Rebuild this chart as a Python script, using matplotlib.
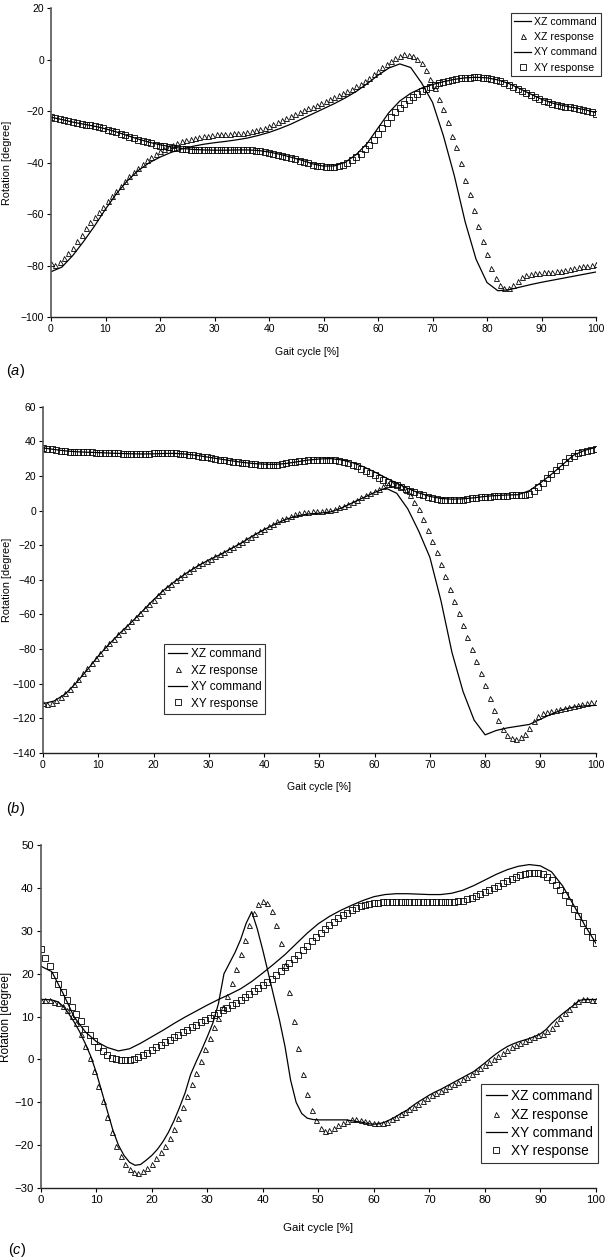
import numpy as np
import matplotlib
matplotlib.use("Agg")
import matplotlib.pyplot as plt

plt.rcParams["font.family"] = ["Liberation Sans", "DejaVu Sans"]
plt.rcParams["mathtext.fontset"] = "custom"
plt.rcParams["mathtext.rm"] = "Liberation Sans"
plt.rcParams["mathtext.it"] = "Liberation Sans:italic"

# sample grids (gait cycle %)
cmd_x = np.linspace(0, 100, 51)        # commands, every 2 %
cmd_x_fine = np.linspace(0, 100, 101)  # panel (c) XZ command, every 1 %
resp_x = np.linspace(0, 100, 126)      # measured responses, every 0.8 %

# ---- panel (a) ----
a_xz_cmd = [-82.3, -80.5, -76, -70.5, -64.5, -58, -52, -47, -43, -40,
            -37.8, -36, -34.6, -33.6, -32.8, -32.2, -31.7, -31.1, -30.4, -29.4,
            -28.2, -26.7, -25, -23, -21, -19, -17, -14.8, -12.3, -9.3,
            -6, -3.2, -1.6, -3, -9, -16.5, -29.5, -45, -63, -77.5,
            -86.5, -89.7, -89.3, -88.3, -87.3, -86.4, -85.6, -84.8, -84, -83.2,
            -82.4]
a_xz_resp = [-79, -79.5, -78.5, -77, -75, -73, -70.5, -68, -65.5, -63,
             -61, -59, -57, -55, -53, -51, -49, -47, -45, -43.5,
             -42, -40.5, -39, -37.8, -36.6, -35.5, -34.6, -33.8, -33, -32.3,
             -31.7, -31.2, -30.7, -30.3, -30, -29.7, -29.4, -29.2, -29, -28.9,
             -28.8, -28.7, -28.6, -28.5, -28.3, -28.1, -27.8, -27.4, -27, -26.4,
             -25.8, -25.1, -24.3, -23.5, -22.7, -21.9, -21.1, -20.3, -19.6, -18.9,
             -18.2, -17.4, -16.7, -16, -15.2, -14.5, -13.7, -12.9, -12.1, -11.2,
             -10.3, -9.3, -8.2, -7, -5.7, -4.3, -2.9, -1.6, -0.4, 0.6,
             1.5, 2.1, 1.9, 1.3, 0.5, -1.3, -4, -7.5, -11, -15.2,
             -19.2, -24.3, -29.5, -34, -40, -46.5, -52, -58.5, -64.5, -70.5,
             -75.5, -81, -84.8, -87.3, -88.6, -88.6, -87.3, -85.8, -84.5, -83.5,
             -83, -82.8, -82.7, -82.6, -82.5, -82.4, -82.2, -82, -81.7, -81.3,
             -81, -80.6, -80.2, -79.9, -79.6, -79.3]
a_xy_cmd = [-22.3, -23.2, -24.2, -25, -25.8, -26.8, -28, -29.4, -30.8, -32,
            -33, -33.8, -34.4, -34.8, -35, -35.1, -35.1, -35, -35, -35.2,
            -35.8, -36.7, -37.8, -39, -40.4, -41.3, -41.2, -39.8, -36.8, -32.5,
            -26.5, -20.5, -16, -13, -11, -9.6, -8.5, -7.6, -7, -6.8,
            -7, -7.8, -9.2, -11.2, -13.3, -15.3, -16.8, -17.8, -18.6, -19.4,
            -20.5]
a_xy_resp = [-22.2, -22.6, -23, -23.4, -23.8, -24.2, -24.6, -24.9, -25.2, -25.5,
             -25.8, -26.2, -26.6, -27.1, -27.6, -28.1, -28.7, -29.2, -29.8, -30.4,
             -31, -31.5, -32, -32.5, -32.9, -33.3, -33.6, -33.9, -34.2, -34.4,
             -34.6, -34.8, -34.9, -35, -35.1, -35.1, -35.2, -35.2, -35.2, -35.2,
             -35.2, -35.1, -35.1, -35.1, -35.1, -35.1, -35.2, -35.3, -35.5, -35.8,
             -36.1, -36.5, -36.9, -37.3, -37.8, -38.2, -38.7, -39.2, -39.7, -40.2,
             -40.7, -41.1, -41.4, -41.6, -41.6, -41.5, -41.2, -40.7, -40, -39,
             -37.8, -36.4, -34.8, -33, -31, -28.8, -26.6, -24.4, -22.3, -20.4,
             -18.6, -17, -15.6, -14.3, -13.2, -12.2, -11.3, -10.5, -9.8, -9.2,
             -8.7, -8.2, -7.8, -7.5, -7.2, -7, -6.9, -6.8, -6.8, -6.9,
             -7.1, -7.4, -7.8, -8.3, -8.9, -9.6, -10.4, -11.2, -12, -12.9,
             -13.7, -14.5, -15.2, -15.9, -16.5, -17, -17.5, -17.9, -18.2, -18.5,
             -18.8, -19.1, -19.5, -19.9, -20.4, -21]

# ---- panel (b) ----
b_xz_cmd = [-111.5, -110, -106, -99.5, -92, -84, -77, -70.5, -64.5, -58,
            -51.5, -45.5, -40.5, -36, -32, -28.5, -25.5, -22, -18.5, -14.5,
            -11, -7.8, -5, -3, -2, -1.5, -0.8, 1.5, 4.5, 7.5,
            10.5, 13, 10, 1, -12, -27, -52, -82, -104.5, -121,
            -129.5, -127, -125.5, -124.5, -123.5, -120.5, -117.5, -115, -113.5, -112.8,
            -112.5]
b_xz_resp = [-111, -111.5, -111, -109.5, -107.5, -105.5, -103, -100, -97, -94,
             -91, -88, -85, -82, -79, -76.5, -74, -71.5, -69, -66.5,
             -64, -61.5, -59, -56.5, -54, -51.5, -49, -46.5, -44.3, -42.2,
             -40.2, -38.3, -36.5, -34.8, -33.2, -31.7, -30.3, -29, -27.7, -26.5,
             -25.2, -23.8, -22.4, -21, -19.5, -18, -16.5, -15, -13.5, -12,
             -10.5, -9, -7.5, -6.2, -5, -4, -3, -2.2, -1.6, -1,
             -0.6, -0.3, -0.2, 0, 0.2, 0.5, 1, 1.8, 2.8, 4,
             5.2, 6.4, 7.6, 8.8, 10, 11.2, 12.5, 14, 15.2, 15.7,
             15.3, 14, 12, 9, 5.2, 1, -5, -11, -17.5, -24,
             -31, -38, -45, -52, -59, -66, -73, -80, -87, -94,
             -101, -108, -115, -121, -126, -129.8, -131.5, -132, -131, -128.8,
             -125.5, -121.5, -118.5, -117, -116.2, -115.5, -115, -114.4, -113.8, -113.2,
             -112.6, -112, -111.5, -111.1, -110.8, -110.6]
b_xy_cmd = [36.2, 35.3, 34.5, 34, 33.7, 33.5, 33.2, 33, 32.8, 32.7,
            32.8, 33, 33, 32.6, 31.8, 30.8, 29.8, 28.8, 27.9, 27.2,
            26.8, 26.7, 27.2, 28.2, 29.2, 29.8, 30, 29.3, 27.7, 25.3,
            22.3, 19, 15.8, 12.8, 10.2, 8.2, 7, 6.6, 6.8, 7.4,
            8.2, 8.7, 9, 9.2, 11.5, 16, 21, 26.5, 32, 34.8,
            36.5]
b_xy_resp = [36, 35.8, 35.3, 35, 34.6, 34.3, 34.1, 34, 33.9, 33.8,
             33.7, 33.6, 33.5, 33.4, 33.3, 33.2, 33.1, 33, 32.9, 32.9,
             32.8, 32.8, 32.8, 32.8, 32.9, 33, 33, 33, 33.1, 33.1,
             33, 32.8, 32.6, 32.3, 31.9, 31.5, 31.1, 30.7, 30.3, 29.9,
             29.5, 29.1, 28.7, 28.3, 27.9, 27.6, 27.3, 27, 26.8, 26.6,
             26.5, 26.5, 26.5, 26.6, 26.9, 27.3, 27.8, 28.2, 28.6, 28.9,
             29.1, 29.3, 29.4, 29.5, 29.5, 29.4, 29.2, 28.8, 28.2, 27.4,
             26.5, 25.5, 24.3, 23, 21.7, 20.4, 19.1, 17.8, 16.6, 15.5,
             14.5, 13.5, 12.5, 11.6, 10.7, 9.8, 8.9, 8.1, 7.4, 6.8,
             6.4, 6.2, 6.1, 6.1, 6.2, 6.4, 6.7, 7, 7.3, 7.6,
             7.9, 8.1, 8.3, 8.5, 8.6, 8.7, 8.8, 8.8, 8.9, 9,
             9.8, 11.5, 13.8, 16.2, 18.7, 21.2, 23.7, 26, 28.2, 30.2,
             31.8, 33.1, 34, 34.6, 35, 35.3]

# ---- panel (c) ----
c_xz_cmd = [14, 14, 13.9, 13.5, 12.5, 10.8, 8.8, 6.5, 3.8, 0.8,
            -3, -7.5, -12, -16.5, -20, -22.4, -24, -24.7, -24.5, -23.5,
            -22.4, -21, -19.2, -17, -14.3, -11.2, -7.8, -3.5, -0.5, 2.3,
            5.3, 8.5, 13, 20, 22.5, 25, 28, 31.8, 34.5, 30.5,
            25.5, 20.1, 14.6, 9.2, 3, -4.8, -10, -12.6, -13.7, -14,
            -14.1, -14.1, -14.1, -14.1, -14.1, -14.1, -14.3, -14.5, -14.7, -15,
            -15.1, -15, -14.6, -14, -13.3, -12.5, -11.8, -10.8, -9.9, -9.1,
            -8.3, -7.6, -7, -6.3, -5.6, -4.9, -4.2, -3.5, -2.8, -1.8,
            -0.8, 0.3, 1.3, 2.2, 3, 3.6, 4.1, 4.5, 4.9, 5.4,
            6, 7, 8.4, 9.6, 10.7, 11.7, 12.7, 13.8, 14, 14,
            14]
c_xz_resp = [14, 14, 13.8, 13.5, 13.1, 12.5, 11.5, 10.2, 8.5, 6,
             3.2, 0.3, -2.8, -6.2, -9.8, -13.5, -17, -20.2, -22.6, -24.4,
             -25.6, -26.3, -26.5, -26.1, -25.4, -24.3, -23, -21.7, -20.1, -18.3,
             -16.2, -13.7, -11.2, -8.5, -5.8, -3.1, -0.3, 2.5, 5.1, 7.5,
             9.8, 12.3, 14.8, 17.8, 21.2, 24.6, 28, 31.3, 34.3, 36.3,
             37, 36.5, 34.6, 31.5, 27.3, 22, 15.8, 9, 2.6, -3.3,
             -8.1, -11.7, -14.2, -15.9, -16.6, -16.5, -16, -15.4, -14.8, -14.3,
             -14, -14, -14.1, -14.3, -14.6, -14.8, -14.9, -14.8, -14.5, -14,
             -13.4, -12.8, -12.2, -11.6, -11, -10.3, -9.6, -9, -8.4, -7.8,
             -7.3, -6.8, -6.3, -5.8, -5.2, -4.6, -4, -3.4, -2.8, -2.1,
             -1.4, -0.6, 0.1, 0.8, 1.5, 2.2, 2.8, 3.4, 3.9, 4.4,
             4.8, 5.2, 5.6, 6, 6.6, 7.4, 8.5, 9.7, 10.8, 11.9,
             12.9, 13.7, 14.1, 14.1, 14, 13.9]
c_xy_cmd = [21.8, 20.5, 15.5, 10, 6.5, 4.2, 2.8, 2, 2.5, 3.8,
            5.3, 6.8, 8.4, 9.9, 11.3, 12.7, 14, 15.2, 16.5, 18.2,
            20.2, 22.3, 24.5, 27, 29.5, 31.7, 33.4, 34.8, 36, 37.1,
            38, 38.5, 38.7, 38.7, 38.6, 38.5, 38.5, 38.8, 39.5, 40.6,
            41.9, 43.2, 44.3, 45.1, 45.5, 45.2, 43.8, 40.5, 36, 31.3,
            27.1]
c_xy_resp = [25.8, 23.7, 21.8, 19.8, 17.6, 15.8, 14, 12.3, 10.7, 8.9,
             7.2, 5.7, 4.3, 3, 1.9, 1, 0.4, 0, -0.2, -0.2,
             -0.1, 0.2, 0.6, 1.1, 1.6, 2.2, 2.8, 3.4, 4, 4.6,
             5.2, 5.8, 6.4, 7, 7.6, 8.1, 8.7, 9.3, 9.8, 10.4,
             10.9, 11.5, 12.1, 12.7, 13.3, 13.9, 14.6, 15.2, 15.9, 16.6,
             17.3, 18.1, 18.9, 19.8, 20.7, 21.6, 22.5, 23.5, 24.5, 25.5,
             26.5, 27.6, 28.6, 29.6, 30.5, 31.4, 32.2, 33, 33.7, 34.3,
             34.9, 35.4, 35.8, 36.1, 36.3, 36.5, 36.6, 36.7, 36.8, 36.8,
             36.8, 36.8, 36.8, 36.8, 36.8, 36.8, 36.7, 36.7, 36.7, 36.7,
             36.7, 36.7, 36.8, 36.8, 36.9, 37.1, 37.4, 37.8, 38.2, 38.6,
             39, 39.5, 40, 40.5, 41.1, 41.6, 42.1, 42.6, 43, 43.3,
             43.5, 43.6, 43.5, 43.2, 42.6, 41.8, 40.8, 39.6, 38.3, 36.8,
             35.2, 33.5, 31.8, 30.1, 28.5, 27.1]


def px(x0, y0, x1, y1):
    # convert pixel box (top-left origin) to figure fraction rect
    W, H = 610, 1258
    return [x0 / W, 1 - y1 / H, (x1 - x0) / W, (y1 - y0) / H]


def draw_panel(ax, xz_cx, xz_c, xz_r, xy_c, xy_r, ylim, ystep, fs, legend_kw,
               ylab_x, xlab_y, xlab_x, tag, tag_xy, fig):
    ax.plot(xz_cx, xz_c, color="black", lw=0.9, label="XZ command")
    ax.plot(resp_x, xz_r, linestyle="none", marker="^", ms=3.6, mfc="none",
            mec="black", mew=0.6, label="XZ response")
    ax.plot(cmd_x, xy_c, color="black", lw=0.9, label="XY command")
    ax.plot(resp_x, xy_r, linestyle="none", marker="s", ms=3.8, mfc="none",
            mec="black", mew=0.6, label="XY response")

    ax.set_xlim(0, 100)
    ax.set_ylim(*ylim)
    ax.set_xticks(np.arange(0, 101, 10))
    ax.set_yticks(np.arange(ylim[0], ylim[1] + 1, ystep))
    for s in ["top", "right"]:
        ax.spines[s].set_visible(False)
    ax.spines["left"].set_color("#555555")
    ax.spines["left"].set_linewidth(1.2)
    ax.spines["bottom"].set_color("#222222")
    ax.spines["bottom"].set_linewidth(1.0)
    ax.tick_params(direction="out", length=3, width=0.8, labelsize=fs, pad=2)

    ax.set_xlabel("Gait cycle [%]", fontsize=fs)
    ax.xaxis.set_label_coords(xlab_x, xlab_y)
    ax.set_ylabel("Rotation [degree]", fontsize=fs + 0.3)
    ax.yaxis.set_label_coords(ylab_x, 0.5)

    leg = ax.legend(frameon=True, fancybox=False, handlelength=1.6,
                    handletextpad=0.3, borderpad=0.35,
                    borderaxespad=0, bbox_transform=fig.transFigure, **legend_kw)
    leg.get_frame().set_edgecolor("black")
    leg.get_frame().set_linewidth(0.8)

    fig.text(tag_xy[0] / 610, 1 - tag_xy[1] / 1258, tag, fontsize=10.5,
             ha="center", va="center")


fig = plt.figure(figsize=(6.1, 12.58), dpi=100)
ax_a = fig.add_axes(px(51, 8.3, 596, 317.3))
ax_b = fig.add_axes(px(43, 406.7, 595.7, 753))
ax_c = fig.add_axes(px(40.7, 845.3, 596, 1188))

draw_panel(ax_a, cmd_x, a_xz_cmd, a_xz_resp, a_xy_cmd, a_xy_resp,
           (-100, 20), 20, 7.5,
           dict(loc="upper right", bbox_to_anchor=(601 / 610, 1 - 13 / 1258),
                fontsize=7.6, labelspacing=0.5),
           (12 - 51) / 545, (317.3 - 347) / 309, 0.47, r"($\mathit{a}$)", (15, 371), fig)
draw_panel(ax_b, cmd_x, b_xz_cmd, b_xz_resp, b_xy_cmd, b_xy_resp,
           (-140, 60), 20, 7.5,
           dict(loc="upper left", bbox_to_anchor=(164 / 610, 1 - 644 / 1258),
                fontsize=8.5, labelspacing=0.38),
           (12 - 43) / 552.7, (753 - 781.7) / 346.3, 0.5, r"($\mathit{b}$)", (15, 809), fig)
draw_panel(ax_c, cmd_x_fine, c_xz_cmd, c_xz_resp, c_xy_cmd, c_xy_resp,
           (-30, 50), 10, 8.2,
           dict(loc="lower right", bbox_to_anchor=(598 / 610, 1 - 1163 / 1258),
                fontsize=9.8, labelspacing=0.32),
           (12 - 40.7) / 555.3, (1188 - 1223) / 342.7, 0.5, r"($\mathit{c}$)", (17, 1250), fig)

fig.savefig("out.png", dpi=100, facecolor="white")
